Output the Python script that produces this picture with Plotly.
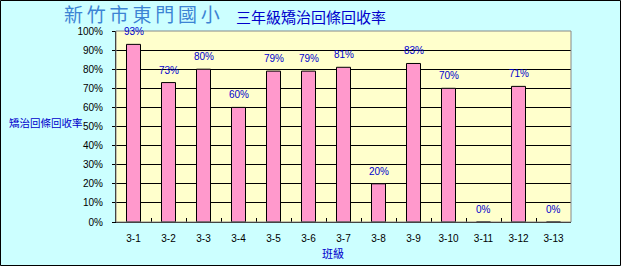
import plotly.graph_objects as go

categories = ["3-1", "3-2", "3-3", "3-4", "3-5", "3-6", "3-7", "3-8", "3-9", "3-10", "3-11", "3-12", "3-13"]
values = [0.93, 0.73, 0.80, 0.60, 0.79, 0.79, 0.81, 0.20, 0.83, 0.70, 0.0, 0.71, 0.0]
title_main = "新竹市東門國小"
title_sub = "三年級矯治回條回收率"
y_title = "矯治回條回收率"
x_title = "班級"

W, H = 621, 266
L, R, T, B = 116, 50, 31, 44
pw = W - L - R
ph = H - T - B

def px_x(px):
    return (px - L) / pw

def px_y(py):
    return (H - B - py) / ph

fig = go.Figure()
fig.add_trace(go.Bar(
    x=categories, y=values,
    marker=dict(color="#FF99CC", line=dict(color="black", width=1)),
    width=0.4,
    hoverinfo="skip",
))

annotations = []
for c, v in zip(categories, values):
    annotations.append(dict(
        x=c, y=v, xref="x", yref="y", text=f"{round(v*100)}%",
        showarrow=False, yanchor="bottom", yshift=5,
        font=dict(family="Liberation Sans, Arial", size=10, color="#0000CC"),
    ))

annotations += [
    dict(xref="paper", yref="paper", x=px_x(62), y=px_y(13), xanchor="left", yanchor="middle",
         text="\u2009".join(title_main), showarrow=False,
         font=dict(family="Noto Sans CJK TC", size=19, color="#3C84D4")),
    dict(xref="paper", yref="paper", x=px_x(234), y=px_y(16), xanchor="left", yanchor="middle",
         text=title_sub, showarrow=False,
         font=dict(family="Noto Sans CJK TC", size=15, color="#0000CC")),
    dict(xref="paper", yref="paper", x=px_x(7), y=px_y(122), xanchor="left", yanchor="middle",
         text=y_title, showarrow=False,
         font=dict(family="Noto Sans CJK TC", size=10.5, color="#0000CC")),
    dict(xref="paper", yref="paper", x=px_x(333), y=px_y(253), xanchor="center", yanchor="middle",
         text=x_title, showarrow=False,
         font=dict(family="Noto Sans CJK TC", size=11, color="#0000CC")),
]

fig.update_layout(
    width=W, height=H,
    margin=dict(l=L, r=R, t=T, b=B, pad=0),
    paper_bgcolor="#CCFFFF",
    plot_bgcolor="#FFFFCC",
    showlegend=False,
    bargap=0.6,
    annotations=annotations,
    shapes=[
        dict(type="rect", xref="paper", yref="paper", x0=0, x1=1, y0=0, y1=1,
             line=dict(color="#888888", width=1)),
        dict(type="rect", xref="paper", yref="paper",
             x0=-(L - 0.5) / pw, x1=(W - L - 0.5) / pw, y0=-(B - 0.5) / ph, y1=(H - B - 0.5) / ph,
             line=dict(color="black", width=1)),
    ],
)

fig.update_xaxes(
    type="category",
    showline=True, linecolor="black", linewidth=1,
    ticks="inside", tickson="boundaries", ticklen=4, tickcolor="black",
    showgrid=False,
    tickfont=dict(family="Liberation Sans, Arial", size=10, color="black"),
    ticklabelstandoff=7,
)
fig.update_yaxes(
    range=[0, 1], dtick=0.1, tickformat=".0%",
    showline=True, linecolor="black", linewidth=1,
    ticks="outside", ticklen=3, tickcolor="black",
    showgrid=True, gridcolor="black", gridwidth=1,
    zeroline=False,
    tickfont=dict(family="Liberation Sans, Arial", size=10, color="black"),
    ticklabelstandoff=7,
)

fig.write_html("out.html")
